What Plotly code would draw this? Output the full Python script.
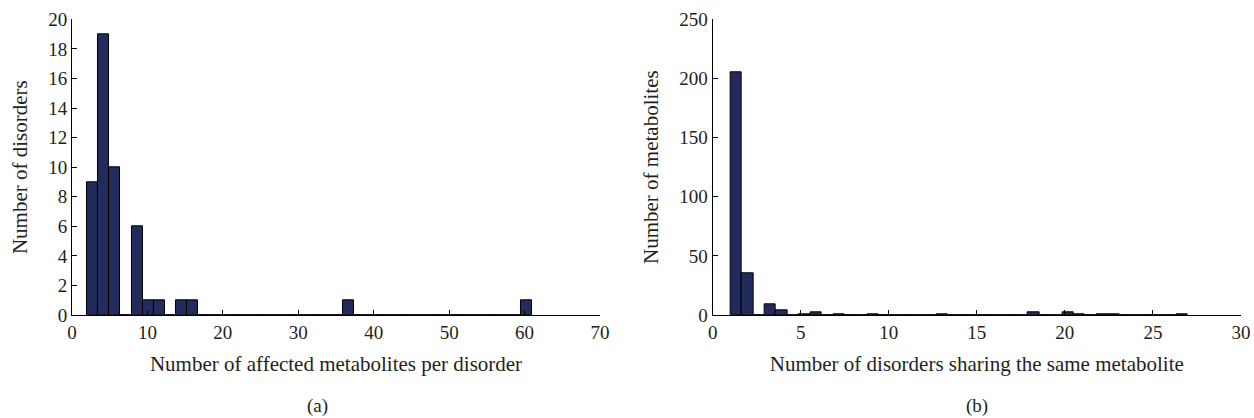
import plotly.graph_objects as go

# Panel (a): affected metabolites per disorder (histogram, 40 bins from 2 to 61)
a_bin_start = 2.0
a_bin_end = 61.0
a_counts = [9, 19, 10, 0, 6, 1, 1, 0, 1, 1,
            0, 0, 0, 0, 0, 0, 0, 0, 0, 0,
            0, 0, 0, 1, 0, 0, 0, 0, 0, 0,
            0, 0, 0, 0, 0, 0, 0, 0, 0, 1]

# Panel (b): disorders sharing the same metabolite (40 bins from 1 to 27)
b_bin_start = 1.0
b_bin_end = 27.0
b_counts = [205, 35, 0, 9, 4, 0, 1, 2, 0, 1,
            0, 0, 1, 0, 0, 0, 0, 0, 1, 0,
            0, 0, 0, 0, 0, 0, 2, 0, 0, 2,
            1, 0, 1, 1, 0, 0, 0, 0, 0, 1]

a_xlabel = "Number of affected metabolites per disorder"
a_ylabel = "Number of disorders"
b_xlabel = "Number of disorders sharing the same metabolite"
b_ylabel = "Number of metabolites"

BAR = "#222b5c"
TXT = "#231f20"
FONT = "Liberation Serif"
TICK_SIZE = 19
TITLE_SIZE = 21


def centers(start, end, counts):
    n = len(counts)
    w = (end - start) / n
    return [start + (i + 0.5) * w for i in range(n)], w


ax, aw = centers(a_bin_start, a_bin_end, a_counts)
bx, bw = centers(b_bin_start, b_bin_end, b_counts)

fig = go.Figure()
fig.add_trace(go.Bar(x=ax, y=a_counts, width=aw, marker=dict(color=BAR, line=dict(color="black", width=1)),
                     xaxis="x", yaxis="y", showlegend=False))
fig.add_trace(go.Bar(x=bx, y=b_counts, width=bw, marker=dict(color=BAR, line=dict(color="black", width=1)),
                     xaxis="x2", yaxis="y2", showlegend=False))

axcommon = dict(showline=True, linecolor="black", linewidth=1, ticks="inside", ticklen=5,
                tickcolor="black", showgrid=False, zeroline=False, automargin=False,
                tickfont=dict(family=FONT, size=TICK_SIZE, color=TXT))
tfont = dict(family=FONT, size=TITLE_SIZE, color=TXT)
ydom = [0.2464, 0.9538]
fig.update_layout(
    width=1254, height=418, margin=dict(l=0, r=0, t=0, b=0),
    paper_bgcolor="white", plot_bgcolor="white", bargap=0,
    font=dict(family=FONT, size=TICK_SIZE, color=TXT),
    xaxis=dict(domain=[0.0574, 0.4785], range=[0, 70], dtick=10, anchor="y",
               title=dict(text=a_xlabel, font=tfont, standoff=14), **axcommon),
    yaxis=dict(domain=ydom, range=[0, 20], dtick=2, anchor="x",
               title=dict(text=a_ylabel, font=tfont, standoff=14), **axcommon),
    xaxis2=dict(domain=[0.5683, 0.9896], range=[0, 30], dtick=5, anchor="y2",
                title=dict(text=b_xlabel, font=tfont, standoff=14), **axcommon),
    yaxis2=dict(domain=ydom, range=[0, 250], dtick=50, anchor="x2",
                title=dict(text=b_ylabel, font=tfont, standoff=14), **axcommon),
    annotations=[
        dict(text="(a)", x=305/1254, y=(418-406)/418, xref="paper", yref="paper", showarrow=False,
             yanchor="middle", font=dict(family=FONT, size=TICK_SIZE, color=TXT)),
        dict(text="(b)", x=990/1254, y=(418-406)/418, xref="paper", yref="paper", showarrow=False,
             yanchor="middle", font=dict(family=FONT, size=TICK_SIZE, color=TXT)),
    ],
)

fig.write_html("out.html")
